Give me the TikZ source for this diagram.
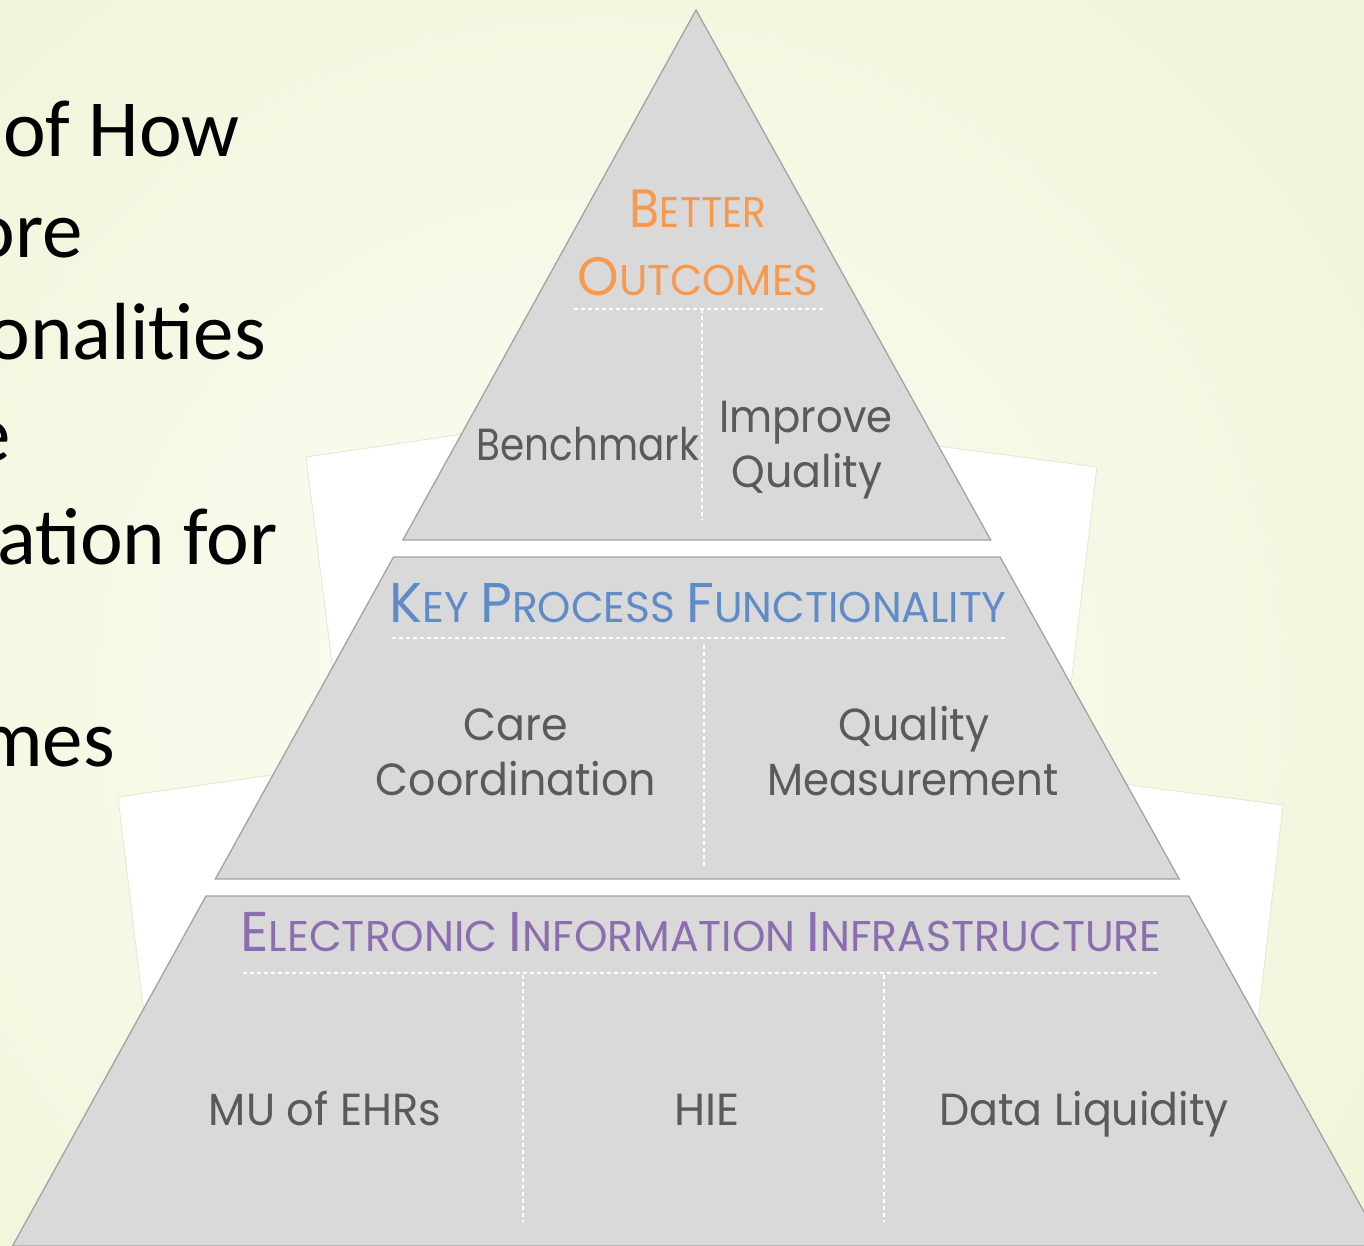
\documentclass[tikz,border=0pt]{standalone}
\usepackage{fontspec}
\usepackage{graphicx}
\setmainfont{Poppins}
\newfontfamily\calfont{Carlito}
\definecolor{bgA}{HTML}{FCFDF5}
\definecolor{bgB}{HTML}{F2F5DA}
\definecolor{layer}{HTML}{D9D9D9}
\definecolor{edgec}{HTML}{A3A3A3}
\definecolor{cardedge}{HTML}{E4E7CF}
\definecolor{lblc}{HTML}{5A5A5A}
\definecolor{orng}{HTML}{F79A4E}
\definecolor{blu}{HTML}{5F8CC7}
\definecolor{purp}{HTML}{8C6DAF}
\newcommand\capbig[2]{{\fontsize{#1}{#1}\selectfont #2}}
\newcommand\hs[2]{\scalebox{#1}[1]{#2}}
\tikzset{
  layerbox/.style={fill=layer, draw=edgec, line width=1.3pt, line join=miter},
  cardbox/.style={fill=white, draw=cardedge, line width=0.8pt},
  divline/.style={draw=white, line width=1.8pt, dash pattern=on 4pt off 3pt},
  lbl/.style={anchor=base, inner sep=0pt, text=lblc, font=\fontsize{45}{54}\selectfont},
  hdr/.style={anchor=base, inner sep=0pt, font=\fontsize{43}{43}\selectfont},
  lefttext/.style={anchor=base east, inner sep=0pt, font=\calfont\fontsize{81}{81}\selectfont, text=black}
}
\begin{document}
\begin{tikzpicture}[x=1pt,y=-1pt]
\useasboundingbox (0,0) rectangle (1364,1246);
\begin{scope}
\clip (0,0) rectangle (1364,1246);
% background
\shade[inner color=bgA, outer color=bgB] (-300,-200) rectangle (1500,1600);
% left text fragments (cut at the left edge)
\node[lefttext] (t1) at (240,157) {of How};
\node[lefttext] (t2) at (83,258) {ore};
\node[lefttext] (t3) at (266,359) {onalities};
\node[lefttext] (t4) at (11,461) {e};
\node[lefttext] (t5) at (278,564) {ation for};
\node[lefttext] (t6) at (115,766) {mes};
% white cards behind pyramid
\path[cardbox] (306,457) -- (504,428) -- (560,650) -- (335,686) -- cycle;
\path[cardbox] (900,441) -- (1097,467) -- (1069,700) -- (900,650) -- cycle;
\path[cardbox] (118,797) -- (300,771) -- (400,1000) -- (146,1030) -- cycle;
\path[cardbox] (1100,781) -- (1283,805) -- (1255,1045) -- (1100,1000) -- cycle;
% white underlay
\fill[white] (696,10) -- (12.5,1246) -- (1383,1246) -- cycle;
% layers
\path[layerbox] (696,10) -- (990.7,540) -- (402.9,540) -- cycle;
\path[layerbox] (393.5,557) -- (1000.1,557) -- (1179.2,879) -- (215.4,879) -- cycle;
\path[layerbox] (206,896) -- (1188.6,896) -- (1383,1246) -- (12.5,1246) -- cycle;
% dividers
\coordinate (d1a) at (574,309); \coordinate (d1b) at (826,309);
\coordinate (v1a) at (702,309); \coordinate (v1b) at (702,520);
\draw[divline] (d1a) -- (d1b);
\draw[divline] (v1a) -- (v1b);
\coordinate (d2a) at (392,638); \coordinate (d2b) at (1005,638);
\coordinate (v2a) at (704,645); \coordinate (v2b) at (704,866);
\draw[divline] (d2a) -- (d2b);
\draw[divline] (v2a) -- (v2b);
\coordinate (d3a) at (243,973); \coordinate (d3b) at (1160,973);
\coordinate (v3a) at (523,975); \coordinate (v3b) at (523,1222);
\coordinate (v4a) at (884,975); \coordinate (v4b) at (884,1222);
\draw[divline] (d3a) -- (d3b);
\draw[divline] (v3a) -- (v3b);
\draw[divline] (v4a) -- (v4b);
% headers
\node[hdr, text=orng] (h1a) at (698,228) {\hs{0.91}{\capbig{54}{B}ETTER}};
\node[hdr, text=orng] (h1b) at (698,295) {\hs{0.98}{\capbig{54}{O}UTCOMES}};
\node[hdr, text=blu] (h2) at (698,622) {\hs{0.985}{\capbig{56}{K}EY \capbig{56}{P}ROCESS \capbig{56}{F}UNCTIONALITY}};
\node[hdr, text=purp] (h3) at (701,951) {\hs{0.99}{\capbig{56}{E}LECTRONIC \capbig{56}{I}NFORMATION \capbig{56}{I}NFRASTRUCTURE}};
% labels
\node[lbl] (bench) at (588,460) {\hs{0.865}{Benchmark}};
\node[lbl] (impr) at (806,432) {\hs{0.93}{Improve}};
\node[lbl] (qual1) at (807,487) {\hs{0.95}{Quality}};
\node[lbl] (care) at (516,740) {\hs{0.95}{Care}};
\node[lbl] (coord) at (516,795) {\hs{0.95}{Coordination}};
\node[lbl] (qual2) at (914,740) {\hs{0.95}{Quality}};
\node[lbl] (meas) at (913,795) {\hs{0.93}{Measurement}};
\node[lbl] (mu) at (325,1125) {\hs{0.96}{MU of EHRs}};
\node[lbl] (hie) at (707,1125) {HIE};
\node[lbl] (liq) at (1084,1125) {\hs{0.95}{Data Liquidity}};
\end{scope}
\end{tikzpicture}
\end{document}
